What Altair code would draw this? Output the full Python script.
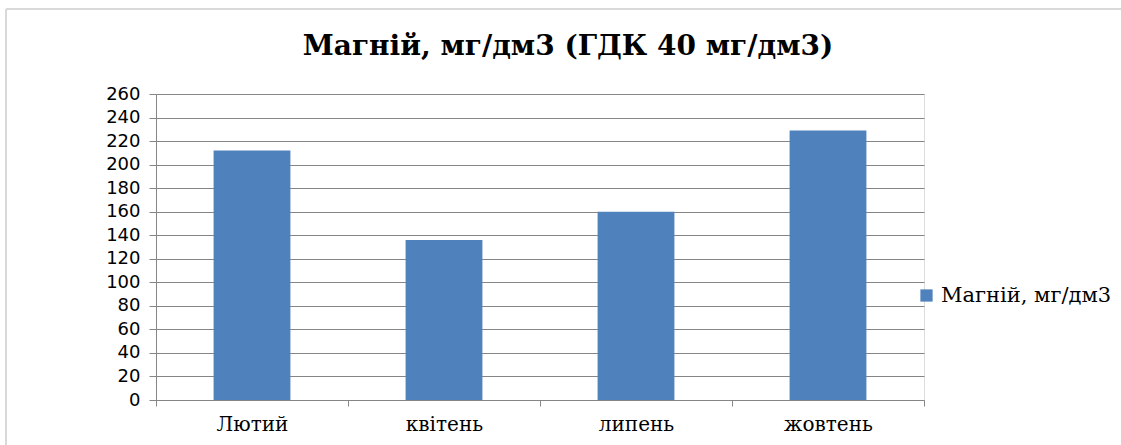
import altair as alt
import pandas as pd

# Magnesium content by sampling month
months = ["Лютий", "квітень", "липень", "жовтень"]
magnesium = [212, 136, 160, 229]
series_name = "Магній, мг/дм3"
y_ticks = list(range(0, 261, 20))

df = pd.DataFrame({"month": months, "value": magnesium, "series": [series_name] * len(months)})

bars = alt.Chart(df).mark_bar(width=alt.RelativeBandSize(0.4)).encode(
    x=alt.X(
        "month:N",
        sort=months,
        title=None,
        scale=alt.Scale(paddingInner=0, paddingOuter=0),
        axis=alt.Axis(
            labelAngle=0,
            labelFont="DejaVu Serif",
            labelFontSize=20,
            labelColor="#000000",
            labelPadding=8,
            domainColor="#868686",
            tickColor="#868686",
            tickBand="extent",
            tickSize=6,
            grid=False,
        ),
    ),
    y=alt.Y(
        "value:Q",
        title=None,
        scale=alt.Scale(domain=[0, 260], nice=False),
        axis=alt.Axis(
            values=y_ticks,
            labelFont="DejaVu Sans",
            labelFontSize=18,
            labelColor="#000000",
            labelPadding=9,
            domainColor="#868686",
            tickColor="#868686",
            tickSize=7,
            gridColor="#868686",
            gridWidth=1.2,
        ),
    ),
    fill=alt.Fill(
        "series:N",
        scale=alt.Scale(range=["#4F81BD"]),
        legend=alt.Legend(
            title=None,
            orient="none",
            legendX=760,
            legendY=191,
            symbolType="square",
            symbolSize=150,
            symbolStrokeWidth=0,
            labelFont="DejaVu Serif",
            labelFontSize=21,
            labelColor="#000000",
            labelLimit=300,
        ),
    ),
)

# light frame around the chart area
frame_src = pd.DataFrame({"k": [0]})
frame_top = alt.Chart(frame_src).mark_rule(color="#d9d9d9", strokeWidth=2).encode(
    x=alt.value(-150), x2=alt.value(970), y=alt.value(-85)
)
frame_left = alt.Chart(frame_src).mark_rule(color="#d9d9d9", strokeWidth=2).encode(
    x=alt.value(-150), y=alt.value(-85), y2=alt.value(360)
)

chart = alt.layer(frame_top, frame_left, bars).properties(
    width=768,
    height=306,
    padding={"left": 156, "top": 94, "right": 197, "bottom": 45},
    autosize=alt.AutoSizeParams(type="none"),
    title=alt.TitleParams(
        "Магній, мг/дм3 (ГДК 40 мг/дм3)",
        font="DejaVu Serif",
        fontSize=28,
        fontWeight="bold",
        color="#000000",
        anchor="middle",
        frame="group",
        dx=28,
        offset=-53,
    ),
).configure_view(stroke=None).configure(background="#ffffff")

chart.save("out.html", embed_options={"renderer": "svg", "actions": False})
